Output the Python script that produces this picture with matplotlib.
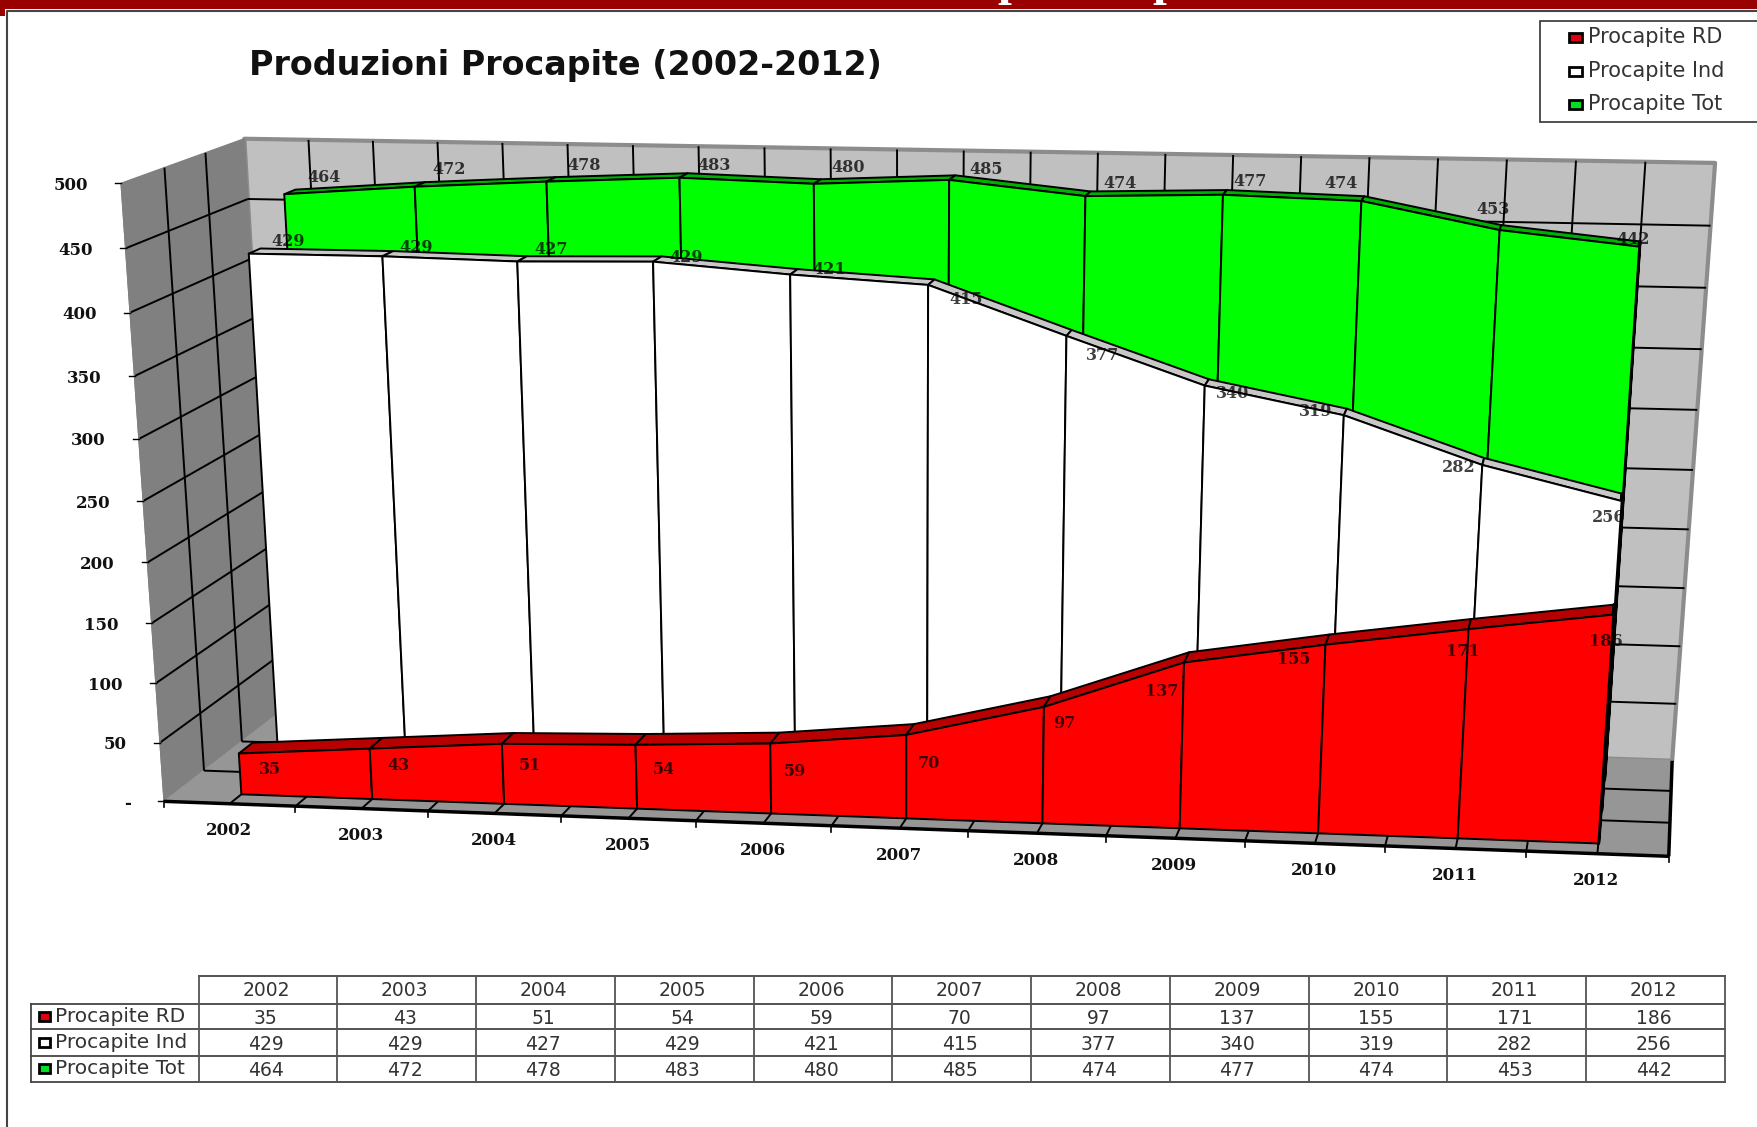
import numpy as np
from matplotlib import pyplot as plt
from matplotlib.patches import Polygon, Rectangle

YEARS = ["2002", "2003", "2004", "2005", "2006", "2007", "2008", "2009", "2010", "2011", "2012"]
PRO_RD = [35, 43, 51, 54, 59, 70, 97, 137, 155, 171, 186]
PRO_IND = [429, 429, 427, 429, 421, 415, 377, 340, 319, 282, 256]
PRO_TOT = [464, 472, 478, 483, 480, 485, 474, 477, 474, 453, 442]
SERIES_NAMES = ["Procapite RD", "Procapite Ind", "Procapite Tot"]
Y_TICKS = [0, 50, 100, 150, 200, 250, 300, 350, 400, 450, 500]
Y_LABELS = ["-", "50", "100", "150", "200", "250", "300", "350", "400", "450", "500"]

# where excel happened to leave the data labels, centres in figure pixels
RD_LABEL_XY = [(270, 770), (398, 766), (530, 766), (664, 770), (795, 772), (929, 764),
               (1064, 723), (1162, 691), (1294, 659), (1463, 652), (1606, 641)]
IND_LABEL_XY = [(288, 242), (416, 248), (551, 249), (686, 257), (829, 269), (966, 299),
                (1103, 356), (1233, 393), (1316, 411), (1459, 467), (1609, 517)]
TOT_LABEL_XY = [(324, 178), (449, 170), (584, 165), (714, 166), (848, 168), (986, 170),
                (1120, 183), (1250, 181), (1341, 183), (1493, 210), (1633, 240)]

# calibration of the 3d box: (category, value, depth) -> pixel
BOX_3D = [(0, 0, 0), (11, 0, 0), (0, 0, 1), (11, 0, 1), (0, 500, 0), (0, 500, 1), (11, 500, 1)]
BOX_PX = [(164.5, 800), (1669, 857), (277.5, 715), (1672, 760), (120.5, 184), (245, 138), (1715, 163)]

# depth of the front and back of each series
RD_DEPTH = (0.10, 0.22)
IND_DEPTH = (0.43, 0.53)
TOT_DEPTH = (0.76, 0.86)

WIDTH, HEIGHT = 1757, 1127


def fit_camera(pts3, pts2):
    # plain DLT, good enough for a picture
    rows = []
    for (t, v, d), (x, y) in zip(pts3, pts2):
        p = [t / 11.0, v / 500.0, d, 1.0]
        rows.append(p + [0, 0, 0, 0] + [-x * c for c in p])
        rows.append([0, 0, 0, 0] + p + [-y * c for c in p])
    u, s, vt = np.linalg.svd(np.array(rows, dtype=float))
    return vt[-1].reshape(3, 4)


CAM = fit_camera(BOX_3D, BOX_PX)


def proj(t, v, d):
    w = CAM @ np.array([t / 11.0, v / 500.0, d, 1.0])
    return w[0] / w[2], w[1] / w[2]


def poly(ax, pts, fc, ec="black", lw=1.4, z=1):
    ax.add_patch(Polygon([proj(*p) for p in pts], closed=True, facecolor=fc, edgecolor=ec,
                         linewidth=lw, joinstyle="round", zorder=z))


def line(ax, a, b, color="black", lw=1.4, z=2):
    pa, pb = proj(*a), proj(*b)
    ax.plot([pa[0], pb[0]], [pa[1], pb[1]], color=color, lw=lw, zorder=z, solid_capstyle="butt")


def draw_area(ax, values, depth, front, top, z):
    d0, d1 = depth
    ts = [i + 0.5 for i in range(len(values))]
    for i in range(len(values) - 1):
        poly(ax, [(ts[i], values[i], d0), (ts[i + 1], values[i + 1], d0),
                  (ts[i + 1], values[i + 1], d1), (ts[i], values[i], d1)], top, z=z)
    # end face is nearly edge on, shows up as the heavy line on the right
    poly(ax, [(ts[-1], values[-1], d0), (ts[-1], values[-1], d1), (ts[-1], 0, d1), (ts[-1], 0, d0)],
         "black", lw=2.5, z=z)
    for i in range(len(values) - 1):
        poly(ax, [(ts[i], values[i], d0), (ts[i + 1], values[i + 1], d0),
                  (ts[i + 1], 0, d0), (ts[i], 0, d0)], front, z=z + 0.1)


fig = plt.figure(figsize=(WIDTH / 100, HEIGHT / 100), dpi=100)
ax = fig.add_axes([0, 0, 1, 1])
ax.set_xlim(0, WIDTH)
ax.set_ylim(HEIGHT, 0)
ax.axis("off")

# page furniture
ax.add_patch(Rectangle((0, 0), WIDTH, 9, fc="#990000", ec="none", zorder=5))
ax.add_patch(Rectangle((0, 0), 5, 16, fc="#990000", ec="none", zorder=5))
ax.plot([7, 7, WIDTH], [HEIGHT, 10.5, 10.5], color="#444444", lw=1.5, zorder=5)
bar_clip = Rectangle((0, 0), WIDTH, 9, transform=ax.transData)
for xp in (1011, 1166):
    tx = ax.text(xp, -6, "p", color="white", fontsize=36, family="Liberation Serif", weight="bold",
                 ha="center", va="baseline", zorder=6)
    tx.set_clip_path(bar_clip)

# walls and floor
poly(ax, [(0, 0, 1), (11, 0, 1), (11, 500, 1), (0, 500, 1)], "#C0C0C0", ec="#8C8C8C", lw=3, z=1)
poly(ax, [(0, 0, 0), (0, 0, 1), (0, 500, 1), (0, 500, 0)], "#808080", ec="#808080", lw=1, z=1.1)
poly(ax, [(0, 0, 0), (11, 0, 0), (11, 0, 1), (0, 0, 1)], "#969696", ec="#969696", lw=1, z=1.1)

for v in Y_TICKS[1:-1]:
    line(ax, (0, v, 0), (0, v, 1))
    line(ax, (0, v, 1), (11, v, 1))
for d in (1 / 3, 2 / 3):
    line(ax, (0, 0, d), (0, 500, d))
    line(ax, (0, 0, d), (11, 0, d))
for k in range(1, 22):
    t = k * 0.5
    line(ax, (t, 0, 1), (t, 500, 1))
    line(ax, (t, 0, 0), (t, 0, 1))

# front edge of the floor and the far right side
line(ax, (0, 0, 0), (11, 0, 0), lw=2.5, z=8)
line(ax, (11, 0, 0), (11, 0, 1), lw=2.5, z=8)
line(ax, (0, 0, 0), (0, 500, 0), color="#808080", lw=1, z=2)

# axis ticks and labels
for v, lab in zip(Y_TICKS, Y_LABELS):
    x, y = proj(0, v, 0)
    ax.plot([x - 6, x], [y, y], color="black", lw=1, zorder=8)
    ax.text(x - 33, y + 2, lab, ha="right", va="center", family="DejaVu Serif", weight="bold",
            fontsize=12, color="#111111", zorder=9)
for k in range(12):
    x, y = proj(k, 0, 0)
    ax.plot([x, x], [y, y + 6], color="black", lw=1.2, zorder=8)
for i, yr in enumerate(YEARS):
    x, y = proj(i + 0.5, 0, 0)
    ax.text(x - 1, y + 27, yr, ha="center", va="center", family="DejaVu Serif", weight="bold",
            fontsize=12, color="#111111", zorder=9)

# series, back to front
draw_area(ax, PRO_TOT, TOT_DEPTH, "#00FF00", "#00B000", 3)
draw_area(ax, PRO_IND, IND_DEPTH, "white", "#C8C8C8", 4)
draw_area(ax, PRO_RD, RD_DEPTH, "#FF0000", "#B80000", 5)

for labels, values in ((TOT_LABEL_XY, PRO_TOT), (IND_LABEL_XY, PRO_IND), (RD_LABEL_XY, PRO_RD)):
    for (x, y), val in zip(labels, values):
        ax.text(x, y, str(val), ha="center", va="center", family="DejaVu Serif", weight="bold",
                fontsize=11.5, color="black", alpha=0.75, zorder=9)

ax.text(249, 65, "Produzioni Procapite (2002-2012)", ha="left", va="center", family="DejaVu Sans",
        weight="bold", fontsize=24, color="#111111", zorder=9)

# legend box
SWATCHES = ["#E00010", "white", "#00E020"]
ax.add_patch(Rectangle((1540, 21), 230, 101, fc="white", ec="#333333", lw=1.2, zorder=9))
for name, col, y in zip(SERIES_NAMES, SWATCHES, (37, 71, 104)):
    ax.add_patch(Rectangle((1569, y - 4.5), 13, 9, fc=col, ec="black", lw=2, zorder=10))
    ax.text(1588, y, name, ha="left", va="center", family="DejaVu Sans", fontsize=15,
            color="#333333", zorder=10)

# data table under the chart
tab_left, tab_x0, tab_x1 = 31, 198.5, 1725
tab_rows = [976, 1004, 1029, 1056, 1082]
col_w = (tab_x1 - tab_x0) / len(YEARS)
ax.plot([tab_x0, tab_x1], [tab_rows[0], tab_rows[0]], color="#444444", lw=1.3)
for y in tab_rows[1:]:
    ax.plot([tab_left, tab_x1], [y, y], color="#444444", lw=1.3)
ax.plot([tab_left, tab_left], [tab_rows[1], tab_rows[-1]], color="#444444", lw=1.3)
for k in range(len(YEARS) + 1):
    xk = tab_x0 + k * col_w
    ax.plot([xk, xk], [tab_rows[0], tab_rows[-1]], color="#555555", lw=1.3)

row_mid = [991, 1018, 1044, 1070]
for i, yr in enumerate(YEARS):
    xc = tab_x0 + (i + 0.5) * col_w - 2
    ax.text(xc, row_mid[0], yr, ha="center", va="center", family="DejaVu Sans", fontsize=13.5, color="#333333")
    for vals, y in zip((PRO_RD, PRO_IND, PRO_TOT), row_mid[1:]):
        ax.text(xc, y, str(vals[i]), ha="center", va="center", family="DejaVu Sans", fontsize=13.5, color="#333333")
for name, col, y in zip(SERIES_NAMES, SWATCHES, row_mid[1:]):
    ax.add_patch(Rectangle((39, y - 6), 11, 9, fc=col, ec="black", lw=2, zorder=3))
    ax.text(55, y - 2, name, ha="left", va="center", family="DejaVu Sans", fontsize=14.5, color="#333333")

fig.savefig("out.png", dpi=100)
plt.close()
